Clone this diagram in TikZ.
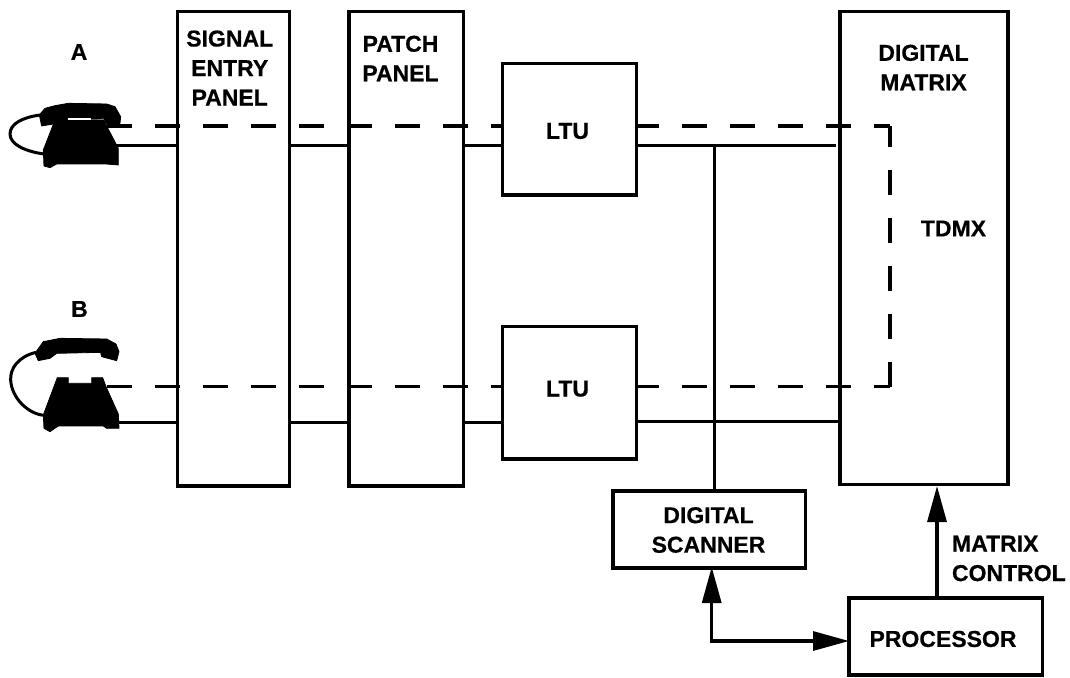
\documentclass[tikz,border=0pt]{standalone}
\usepackage{fontspec}
\setmainfont[BoldFeatures={FakeBold=0.5}]{Liberation Sans}
\usetikzlibrary{arrows.meta}
\newcommand{\labelfont}{\fontsize{23}{29.5}\selectfont\bfseries}
\tikzset{
  boxnode/.style={draw=black,line width=3.2pt,fill=none,inner sep=0pt,outer sep=0pt,anchor=north west},
  lbl/.style={inner sep=0pt,outer sep=0pt,align=center,font=\labelfont},
  wire/.style={draw=black,line width=3pt},
  dashwire/.style={draw=black,line width=3.2pt,dash pattern=on 25pt off 23pt},
  ctrl/.style={draw=black,line width=3.2pt,-{Triangle[length=36pt,width=19pt]}},
  ctrlplain/.style={draw=black,line width=3.2pt,line join=miter},
  cord/.style={draw=black,line width=3pt},
  phonepart/.style={fill=black,draw=black,line width=.8pt,line join=round}
}
\newcommand{\boxat}[5]{\node[boxnode,minimum width=#4pt,minimum height=#5pt] (#1) at (#2,#3) {};}
\begin{document}
\begin{tikzpicture}[x=1pt,y=-1pt]
\useasboundingbox (0,0) rectangle (1070,677);
% boxes
\boxat{sep}{177.3}{11.5}{112}{474.5}
\boxat{pp}{349}{11.5}{114.5}{474.5}
\boxat{ltua}{502.7}{63.3}{134}{131.7}
\boxat{ltub}{502.7}{326.7}{134}{132.3}
\boxat{dm}{840}{11.7}{168}{472.5}
\boxat{scan}{613}{491}{192.7}{77}
\boxat{proc}{849}{598}{193.7}{77}
% labels
\node[lbl] (lsep) at (229.7,68) {SIGNAL\\ENTRY\\PANEL};
\node[lbl] (lpp) at (400.5,58.5) {PATCH\\PANEL};
\node[lbl] (ldm) at (923.5,67.5) {DIGITAL\\MATRIX};
\node[lbl] (ltd) at (953.5,228.5) {TDMX};
\node[lbl] (la) at (79,52) {A};
\node[lbl] (lb) at (79.5,309) {B};
\node[lbl] (ll1) at (567.5,131) {LTU};
\node[lbl] (ll2) at (567.5,388.7) {LTU};
\node[lbl] (lsc) at (708.5,530) {DIGITAL\\SCANNER};
\node[lbl] (lpr) at (943,639) {PROCESSOR};
\node[lbl,align=left,anchor=west] (lmc) at (952,558.5) {MATRIX\\CONTROL};
% coordinates
\coordinate (pa) at (115,145.5);
\coordinate (pb) at (115,422.7);
\coordinate (dastart) at (107,126);
\coordinate (dacorner) at (890,126);
\coordinate (dbcorner) at (890,386.5);
\coordinate (dbstart) at (107,386.5);
\coordinate (jn) at (714.5,145.5);
\coordinate (elbow) at (711.7,641);
\coordinate (sa) at (711.7,567);
\coordinate (shaftup) at (711.7,610);
\coordinate (shaftright) at (820,641);
\coordinate (mtip) at (937,486);
\coordinate (mbase) at (937,598);
\coordinate (wtopend) at (836,145.5);
\coordinate (wbot) at (638,421.5);
% solid wires
\draw[wire] (pa) -- (sep.west |- pa);
\draw[wire] (sep.east |- pa) -- (pp.west |- pa);
\draw[wire] (pp.east |- pa) -- (ltua.west |- pa);
\draw[wire] (ltua.east |- wtopend) -- (wtopend);
\draw[wire] (pb) -- (sep.west |- pb);
\draw[wire] (sep.east |- pb) -- (pp.west |- pb);
\draw[wire] (pp.east |- pb) -- (ltub.west |- pb);
\draw[wire] (ltub.east |- wbot) -- (dm.west |- wbot);
\draw[wire] (jn) -- (jn |- scan.north);
% dashed
\draw[dashwire] (dastart) -- (ltua.west |- dastart);
\draw[dashwire,dash phase=3pt] (ltua.east |- dastart) -- (dacorner);
\draw[dashwire,dash phase=4pt] (dacorner) -- (dbcorner);
\draw[dashwire] (dbstart) -- (ltub.west |- dbstart);
\draw[dashwire,dash phase=3pt] (ltub.east |- dbstart) -- (dbcorner);
% arrows
\draw[ctrl] (mbase) -- (mtip);
\draw[ctrlplain] (shaftup) -- (elbow) -- (shaftright);
\draw[ctrl] (shaftup) -- (sa);
\draw[ctrl] (shaftright) -- (proc.west |- shaftright);
% phone A
\begin{scope}[shift={(0,40)},x=.3333pt,y=-.3333pt]
\draw[cord] (120,225) .. controls (70,232) and (30,250) .. (30,282) .. controls (30,315) and (80,335) .. (132,342);
\fill[phonepart] (118,225) -- (135,205) -- (165,197) -- (205,190) -- (320,192) -- (345,200) -- (362,230) -- (360,250) -- (345,256) -- (320,252) -- (312,236) -- (172,240) -- (160,252) -- (125,258) -- cycle;
\fill[phonepart] (165,240) -- (312,240) -- (322,262) -- (355,325) -- (355,375) -- (318,372) -- (170,372) -- (150,383) -- (132,378) -- (130,330) -- cycle;
\fill[white] (205,234) rectangle (272,239);
\end{scope}
% phone B
\begin{scope}[shift={(0,290)},x=.3333pt,y=-.3333pt]
\draw[cord] (108,187) .. controls (55,200) and (30,235) .. (32,270) .. controls (35,325) and (85,372) .. (132,376);
\fill[phonepart] (105,190) -- (130,155) -- (180,145) -- (320,147) -- (348,162) -- (357,185) -- (350,212) -- (305,200) -- (302,187) -- (170,190) -- (150,205) -- (115,212) -- cycle;
\fill[phonepart] (172,263) -- (205,263) -- (205,280) -- (275,280) -- (275,263) -- (308,263) -- (318,290) -- (355,372) -- (357,415) -- (320,415) -- (310,408) -- (175,408) -- (150,425) -- (132,415) -- (130,375) -- cycle;
\end{scope}
\end{tikzpicture}
\end{document}
